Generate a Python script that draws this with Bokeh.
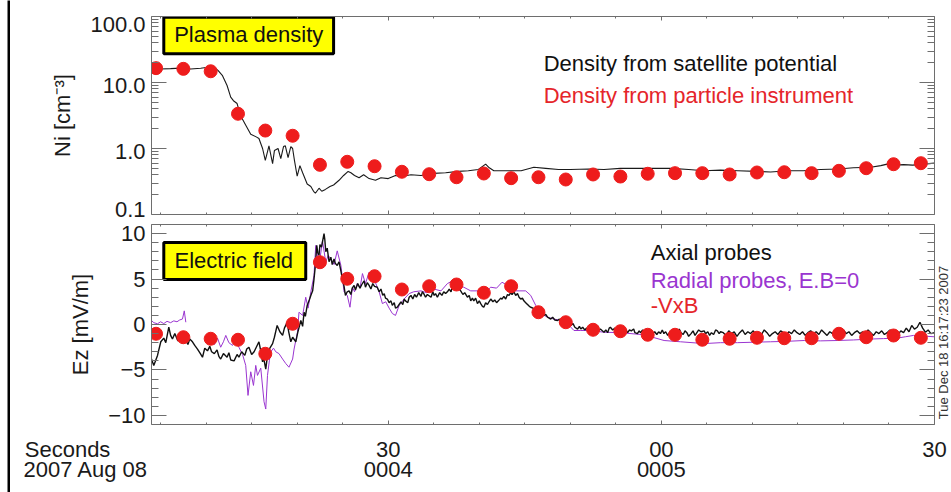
import math
from bokeh.plotting import figure
from bokeh.models import (FixedTicker, LinearAxis, LogAxis, Range1d, Label, Spacer,
                          CustomJSTickFormatter)
from bokeh.layouts import row, column
from bokeh.embed import file_html
from bokeh.resources import INLINE

FONT = "Liberation Sans"

# ---------------- data (time = seconds after 00:04:00 UT, 2007 Aug 08) ----------------
density_line = [
    (4.0, 16.4), (5.0, 16.0), (6.1, 16.2), (7.2, 16.5), (8.3, 16.0), (9.4, 16.4), (10.2, 17.0),
    (10.8, 17.4), (11.3, 15.3), (11.8, 12.7), (12.3, 9.0), (12.7, 6.0), (13.0, 5.3), (13.4, 4.8),
    (13.8, 3.1), (14.4, 2.2), (14.9, 1.65), (15.5, 1.5), (15.8, 1.42), (16.2, 1.0), (16.5, 0.66),
    (16.9, 1.1), (17.3, 0.59), (17.5, 0.93), (17.9, 1.0), (18.2, 0.70), (18.5, 1.07), (18.7, 1.1),
    (19.0, 0.73), (19.3, 1.07), (19.5, 1.0), (19.7, 0.66), (20.0, 0.38), (20.3, 0.55), (20.6, 0.43),
    (21.1, 0.29), (21.5, 0.265), (21.8, 0.225), (22.0, 0.21), (22.4, 0.25), (22.7, 0.225),
    (23.1, 0.24), (23.6, 0.265), (24.0, 0.28), (24.6, 0.33), (25.1, 0.39), (25.6, 0.45),
    (25.9, 0.43), (26.3, 0.39), (26.8, 0.36), (27.3, 0.40), (27.9, 0.35), (28.6, 0.33),
    (29.2, 0.36), (30.0, 0.35), (30.8, 0.39), (31.6, 0.38), (32.5, 0.40), (33.6, 0.39),
    (35.0, 0.42), (36.3, 0.43), (37.7, 0.45), (38.8, 0.46), (39.9, 0.48), (40.7, 0.58),
    (41.1, 0.51), (41.6, 0.46), (42.9, 0.46), (44.6, 0.46), (46.0, 0.52), (47.3, 0.50),
    (48.7, 0.48), (50.0, 0.48), (52.0, 0.49), (53.7, 0.48), (55.5, 0.50), (57.4, 0.50),
    (59.4, 0.50), (61.1, 0.50), (63.0, 0.48), (64.7, 0.46), (66.5, 0.47), (68.4, 0.46),
    (70.4, 0.45), (72.0, 0.44), (73.9, 0.46), (75.6, 0.46), (77.5, 0.48), (79.4, 0.49),
    (81.1, 0.51), (83.0, 0.52), (84.1, 0.55), (84.8, 0.58), (85.7, 0.56), (86.6, 0.57),
    (87.6, 0.56), (88.8, 0.58), (90.0, 0.60),
]

sample_times = [4.5, 7.5, 10.5, 13.5, 16.5, 19.5, 22.5, 25.5, 28.5, 31.5, 34.5, 37.5, 40.5,
                43.5, 46.5, 49.5, 52.5, 55.5, 58.5, 61.5, 64.5, 67.5, 70.5, 73.5, 76.5, 79.5,
                82.5, 85.5, 88.5]
density_particle = [16.5, 16.1, 14.8, 3.36, 1.87, 1.56, 0.566, 0.629, 0.539, 0.444, 0.408,
                    0.367, 0.418, 0.355, 0.367, 0.339, 0.404, 0.376, 0.414, 0.423, 0.423,
                    0.404, 0.433, 0.437, 0.423, 0.459, 0.503, 0.578, 0.599]

ez_vxb = [-1.02, -1.40, -1.57, -1.68, -3.22, 0.08, 6.85, 5.03, 5.31, 3.85, 4.21, 4.40, 3.49,
          4.21, 1.35, 0.25, -0.58, -0.74, -1.13, -1.13, -1.68, -1.57, -1.46, -1.51, -1.51,
          -1.02, -1.40, -1.21, -1.46]

ez_axial = [
    (4.0, -3.8), (4.25, -4.5), (4.66, -3.4), (5.02, -1.9), (5.35, -1.5), (5.57, -2.0), (5.9, -0.3),
    (6.1, -1.2), (6.3, -1.6), (6.56, -1.0), (6.9, -1.8), (7.2, -1.4), (7.4, -2.1), (7.66, -1.5),
    (8.0, -2.2), (8.2, -1.6), (8.5, -1.9), (8.75, -2.3), (9.05, -2.7), (9.3, -3.1), (9.6, -3.6),
    (9.85, -2.6), (10.15, -2.9), (10.4, -2.4), (10.6, -3.0), (10.9, -3.2), (11.2, -2.8),
    (11.4, -3.5), (11.6, -3.8), (11.9, -3.2), (12.3, -3.6), (12.5, -3.1), (12.7, -3.9),
    (13.07, -4.0), (13.4, -3.3), (13.6, -3.6), (13.9, -3.0), (14.25, -3.4), (14.46, -2.7),
    (14.7, -2.5), (15.0, -3.3), (15.27, -3.0), (15.56, -2.4), (15.8, -1.9), (16.0, -2.9),
    (16.2, -4.1), (16.3, -3.6), (16.55, -4.9), (16.74, -3.4), (17.0, -2.6), (17.3, -2.1),
    (17.5, -1.4), (17.8, -0.1), (18.1, -0.8), (18.4, -1.2), (18.6, -0.4), (18.9, 0.25),
    (19.07, -0.8), (19.3, -1.9), (19.5, -1.4), (19.85, -1.9), (20.06, -0.9), (20.4, 0.44),
    (20.6, -0.2), (20.76, 1.35), (20.9, 0.9), (21.1, 2.1), (21.3, 2.6), (21.5, 3.2), (21.7, 3.7),
    (21.85, 5.0), (22.0, 6.5), (22.15, 8.7), (22.26, 7.9), (22.4, 7.6), (22.5, 8.8), (22.67, 8.5),
    (22.8, 9.2), (22.95, 10.0), (23.03, 9.4), (23.14, 8.0), (23.3, 8.4), (23.5, 6.9), (23.7, 7.4),
    (23.85, 6.6), (24.05, 7.2), (24.2, 6.7), (24.4, 6.5), (24.6, 6.9), (24.8, 5.9), (24.97, 5.0),
    (25.15, 4.2), (25.3, 3.2), (25.5, 3.6), (25.7, 3.7), (25.9, 3.3), (26.05, 4.0), (26.25, 4.3),
    (26.4, 3.8), (26.65, 4.5), (26.9, 4.0), (27.1, 4.4), (27.35, 4.8), (27.5, 4.1), (27.7, 4.6),
    (27.9, 4.3), (28.1, 3.9), (28.3, 4.5), (28.5, 4.2), (28.8, 4.1), (29.0, 3.6), (29.2, 3.9),
    (29.4, 3.2), (29.56, 3.4), (29.7, 2.9), (29.9, 2.8), (30.1, 2.4), (30.3, 2.6), (30.45, 2.1),
    (30.66, 2.4), (30.8, 1.8), (31.0, 1.9), (31.2, 2.2), (31.4, 2.5), (31.6, 2.2), (31.76, 2.8),
    (31.9, 2.6), (32.15, 2.4), (32.3, 3.0), (32.5, 3.2), (32.7, 2.8), (32.9, 3.3), (33.1, 3.0),
    (33.35, 3.5), (33.6, 3.1), (33.75, 3.6), (33.9, 3.4), (34.1, 3.0), (34.3, 3.3), (34.7, 3.0),
    (34.9, 3.6), (35.05, 3.2), (35.2, 3.4), (35.4, 3.0), (35.65, 3.5), (35.9, 3.2), (36.1, 3.6),
    (36.3, 3.4), (36.5, 3.6), (36.7, 3.9), (36.9, 3.6), (37.05, 4.2), (37.2, 4.1), (37.4, 3.8),
    (37.6, 4.2), (37.8, 3.9), (37.96, 3.7), (38.2, 3.3), (38.4, 3.5), (38.7, 3.0), (38.9, 3.2),
    (39.06, 2.6), (39.25, 2.9), (39.4, 2.6), (39.6, 2.9), (39.8, 2.3), (40.0, 2.6), (40.16, 2.3),
    (40.35, 2.0), (40.5, 1.9), (40.7, 2.4), (40.9, 2.2), (41.07, 2.5), (41.26, 2.8), (41.5, 2.5),
    (41.7, 2.7), (41.9, 2.4), (42.1, 2.6), (42.35, 2.9), (42.5, 2.8), (42.7, 3.1), (42.9, 2.8),
    (43.1, 3.3), (43.27, 3.2), (43.45, 3.5), (43.6, 3.3), (43.8, 3.6), (44.0, 3.2), (44.2, 3.4),
    (44.37, 3.0), (44.55, 2.8), (44.74, 2.9), (44.9, 2.6), (45.1, 2.4), (45.3, 2.2), (45.5, 2.0),
    (45.65, 1.9), (45.9, 1.8), (46.1, 1.5), (46.4, 1.35), (46.6, 1.4), (46.75, 1.2), (46.9, 1.2),
    (47.1, 1.0), (47.3, 1.1), (47.5, 0.8), (47.85, 0.6), (48.06, 0.8), (48.3, 0.5), (48.6, 0.44),
    (48.8, 0.6), (48.95, 0.3), (49.2, 0.4), (49.3, 0.25), (49.5, 0.3), (49.7, 0.0), (50.06, -0.1),
    (50.3, 0.1), (50.5, -0.3), (50.8, -0.5), (51.0, -0.2), (51.15, -0.5), (51.36, -0.3),
    (51.58, -0.6), (51.8, -0.4), (52.0, -0.5), (52.25, -0.7), (52.45, -0.4), (52.7, -0.6),
    (52.9, -0.3), (53.1, -0.7), (53.3, -0.5), (53.7, -0.85), (53.9, -0.6), (54.1, -0.9),
    (54.27, -0.4), (54.4, -0.3), (54.65, -0.6), (54.9, -0.4), (55.1, -0.8), (55.3, -0.5),
    (55.57, -0.7), (55.7, -0.5), (55.9, -0.85), (56.1, -0.6), (56.3, -0.9), (56.5, -0.6),
    (56.7, -0.7), (56.96, -0.5), (57.1, -0.9), (57.37, -1.0), (57.56, -0.7), (57.7, -0.9),
    (57.95, -0.6), (58.2, -0.8), (58.4, -1.1), (58.6, -1.0), (58.8, -1.4), (59.05, -1.0),
    (59.27, -0.8), (59.5, -1.1), (59.7, -0.8), (59.9, -1.0), (60.1, -0.6), (60.28, -1.0),
    (60.47, -0.8), (60.7, -1.2), (60.9, -0.9), (61.1, -1.1), (61.35, -0.6), (61.5, -0.9),
    (61.76, -0.85), (61.96, -0.5), (62.16, -0.9), (62.4, -1.1), (62.6, -0.7), (62.8, -0.9),
    (63.0, -1.3), (63.26, -1.0), (63.48, -0.7), (63.7, -1.2), (63.9, -0.9), (64.1, -0.6),
    (64.35, -0.8), (64.7, -0.7), (64.86, -1.0), (65.1, -0.8), (65.3, -1.2), (65.5, -0.9),
    (65.74, -1.1), (65.96, -0.6), (66.15, -0.7), (66.35, -1.0), (66.5, -0.8), (66.8, -0.9),
    (67.1, -1.2), (67.4, -0.7), (67.7, -1.0), (68.0, -0.8), (68.3, -1.3), (68.6, -0.9),
    (68.9, -0.6), (69.2, -1.1), (69.5, -0.8), (69.8, -1.0), (70.1, -0.7), (70.4, -1.2),
    (70.7, -0.9), (71.0, -1.1), (71.3, -0.6), (71.6, -0.9), (71.9, -1.3), (72.2, -1.0),
    (72.5, -0.8), (72.8, -1.1), (73.1, -0.7), (73.4, -0.9), (73.7, -1.2), (74.0, -0.8),
    (74.3, -1.0), (74.6, -0.6), (74.9, -0.9), (75.2, -1.1), (75.5, -0.8), (75.8, -1.2),
    (76.1, -0.9), (76.4, -0.7), (76.7, -1.0), (77.0, -0.8), (77.3, -1.1), (77.6, -0.6),
    (77.9, -0.9), (78.2, -1.2), (78.5, -0.8), (78.8, -1.0), (79.1, -0.7), (79.4, -1.1),
    (79.7, -0.9), (80.0, -0.6), (80.3, -1.0), (80.6, -0.8), (80.9, -1.2), (81.2, -0.9),
    (81.5, -0.7), (81.8, -1.0), (82.1, -0.8), (82.4, -1.1), (82.7, -0.6), (83.0, -0.9),
    (83.3, -1.2), (83.6, -0.8), (83.9, -1.0), (84.2, -0.7), (84.5, -1.1), (84.8, -0.9),
    (85.1, -0.6), (85.4, -1.0), (85.7, -0.8), (86.0, -1.1), (86.3, -0.7), (86.6, -0.9),
    (86.9, -0.4), (87.2, -0.8), (87.5, -0.1), (87.8, -0.5), (88.1, -0.3), (88.4, 0.25),
    (88.7, -0.4), (89.0, -0.85), (89.3, -0.6), (89.6, -1.0), (90.0, -0.9),
]

ez_radial = [
    (4.0, 0.44), (4.25, 0.2), (4.66, 0.08), (5.0, 0.3), (5.35, 0.1), (5.7, 0.35), (6.1, 0.2),
    (6.45, 0.4), (6.8, 0.3), (7.1, 0.5), (7.4, 0.6), (7.6, 1.5), (7.77, 0.25), (7.9, float("nan")),
    (10.15, -1.2), (10.5, -1.8), (10.9, -2.2), (11.25, -1.5), (11.6, -2.5), (11.9, -1.9),
    (12.16, -1.2), (12.5, -2.0), (12.9, -2.3), (13.26, -1.6), (13.6, -2.5), (14.0, -3.3),
    (14.35, -4.5), (14.6, -7.8), (14.9, -5.2), (15.2, -6.7), (15.45, -4.5), (15.64, -5.6),
    (16.0, -4.8), (16.36, -8.5), (16.55, -9.3), (16.74, -5.6), (16.94, -4.0), (17.1, -3.0),
    (17.4, -2.6), (17.65, -3.0), (18.0, -3.2), (18.4, -3.8), (18.75, -4.3), (19.1, -4.7),
    (19.5, -3.8), (19.66, -2.7), (20.03, -0.85), (20.2, 1.35), (20.6, 1.0), (20.94, 3.0),
    (21.2, 1.8), (21.5, 3.6), (21.85, 5.4), (22.04, 8.7), (22.4, 6.5), (22.78, 9.2), (23.14, 6.85),
    (23.4, 7.6), (23.7, 7.2), (24.05, 6.6), (24.4, 8.1), (24.8, 6.5), (25.15, 3.6), (25.5, 3.2),
    (25.8, 1.9), (26.07, 4.1), (26.3, 3.6), (26.6, 4.5), (26.9, 4.0), (27.17, 5.6), (27.5, 4.5),
    (27.9, 5.75), (28.3, 4.8), (28.6, 4.6), (29.0, 3.6), (29.36, 2.3), (29.73, 2.5), (30.1, 1.8),
    (30.46, 1.2), (30.8, 1.0), (31.2, 2.1), (31.74, 2.8), (32.3, 3.4), (32.8, 3.6), (33.6, 3.7),
    (34.2, 3.5), (35.0, 3.9), (35.8, 3.7), (36.5, 4.5), (37.05, 4.8), (37.6, 4.3), (38.3, 4.1),
    (39.06, 3.7), (39.8, 3.7), (40.5, 3.4), (41.26, 4.1), (41.9, 4.0), (42.5, 4.65), (43.1, 4.3),
    (43.6, 3.7), (44.37, 3.7), (45.1, 3.7), (45.65, 3.2), (46.2, 2.1), (46.75, 1.2), (47.5, 0.8),
    (48.2, 0.6), (48.95, 0.44), (49.7, 0.08), (50.4, -0.66), (51.15, -0.66), (52.25, -0.66),
    (53.7, -0.85), (55.5, -0.9), (58.1, -1.13), (60.3, -1.76), (62.1, -1.9), (64.7, -2.1),
    (66.5, -2.0), (68.35, -2.0), (70.1, -1.95), (72.0, -1.9), (73.8, -1.85), (75.7, -1.76),
    (77.5, -1.8), (79.3, -1.76), (81.1, -1.7), (83.0, -1.6), (84.4, -1.55), (85.9, -1.5),
    (86.8, -1.35), (87.7, -1.2), (88.5, -1.25), (89.2, -1.3), (90.0, -1.35),
]

x_major = [30, 60, 90]
x_tick_labels = {30: "30\n0004", 60: "00\n0005", 90: "30"}
ni_ticks = [0.1, 1, 10, 100]
# label anchor positions: the outer labels sit a little inside the frame, as in the original
ni_label_pos = {0.119: "0.1", 0.9: "1.0", 8.95: "10.0", 76.7: "100.0"}
ez_ticks = [-10, -5, 0, 5, 10]
date_label = "Seconds\u00a0\u00a0\u00a0\u00a0\u00a0\u00a0\n2007 Aug 08"
stamp_label = "Tue Dec 18 16:17:23 2007"

# ---------------- layout constants (pixels) ----------------
W = 941            # width of the panel column
LEFT = 141         # frame left inside the column
RIGHT = 17         # space right of the frames
FRAME_W = W - LEFT - RIGHT
X0, X1 = 4, 90     # time range of the frames
PX_PER_S = FRAME_W / (X1 - X0)
P2_H = 210

# ---------------- styling helpers ----------------
AX_COL = "#6e6e6e"
RED = "#ee1c1c"
PURPLE = "#9a35d0"


def style_axis(ax, major_len, minor_len, labels):
    ax.axis_line_color = AX_COL
    ax.axis_line_width = 1
    ax.major_tick_line_color = AX_COL
    ax.minor_tick_line_color = AX_COL
    ax.major_tick_in = major_len
    ax.major_tick_out = 0
    ax.minor_tick_in = minor_len
    ax.minor_tick_out = 0
    ax.major_label_text_font = FONT
    ax.major_label_text_color = "#1a1a1a"
    ax.major_label_text_font_size = "22px"
    if not labels:
        ax.formatter = CustomJSTickFormatter(code="return ''")
        ax.major_label_standoff = 0


def style_axis_label(ax, text, size="22px", standoff=12):
    ax.axis_label = text
    ax.axis_label_text_font = FONT
    ax.axis_label_text_font_size = size
    ax.axis_label_text_font_style = "normal"
    ax.axis_label_text_color = "#1a1a1a"
    ax.axis_label_standoff = standoff


x_ticker = FixedTicker(ticks=x_major, minor_ticks=list(range(5, 90, 5)))
log_ticker = FixedTicker(ticks=ni_ticks,
                         minor_ticks=[m * 10.0 ** e for e in (-1, 0, 1) for m in range(2, 10)])
ez_ticker = FixedTicker(ticks=ez_ticks, minor_ticks=list(range(-11, 12)))

xr = Range1d(X0, X1)

# ---------------- top panel ----------------
p1 = figure(width=W, height=221, x_range=xr, y_range=Range1d(0.1, 100), y_axis_type="log",
            output_backend="svg", toolbar_location=None,
            min_border_left=LEFT, min_border_right=RIGHT, min_border_top=16, min_border_bottom=7)
p1.grid.visible = False
p1.outline_line_color = None
p1.xaxis.ticker = x_ticker
style_axis(p1.xaxis[0], 4, 2, False)
p1.yaxis.ticker = log_ticker
style_axis(p1.yaxis[0], 15, 7, False)
lab_axis = LogAxis(ticker=FixedTicker(ticks=list(ni_label_pos.keys()), minor_ticks=[]),
                   major_label_overrides=ni_label_pos)
style_axis(lab_axis, 0, 0, True)
lab_axis.axis_line_color = None
lab_axis.major_tick_line_color = None
lab_axis.major_label_standoff = 6
style_axis_label(lab_axis, "Ni [cm⁻³]")
p1.add_layout(lab_axis, "left")
ax_top = LinearAxis(ticker=x_ticker)
style_axis(ax_top, 4, 2, False)
p1.add_layout(ax_top, "above")
ax_r1 = LogAxis(ticker=log_ticker)
style_axis(ax_r1, 15, 7, False)
p1.add_layout(ax_r1, "right")

p1.quad(left=[5.35], right=[24.0], bottom=[27.3], top=[97.0],
        fill_color="#ffff00", line_color="black", line_width=3)
p1.add_layout(Label(x=14.68, y=52.8, text="Plasma density", text_align="center",
                    text_baseline="middle", text_font=FONT, text_font_size="22px",
                    text_color="#111111"))
p1.line([t for t, v in density_line], [v for t, v in density_line], line_color="#1a1a1a",
        line_width=1.1)
p1.scatter(sample_times, density_particle, size=13, fill_color=RED, line_color=RED)
p1.add_layout(Label(x=47.08, y=19.2, text="Density from satellite potential", text_align="left",
                    text_baseline="middle", text_font=FONT, text_font_size="22px",
                    text_color="#111111"))
p1.add_layout(Label(x=47.08, y=6.3, text="Density from particle instrument", text_align="left",
                    text_baseline="middle", text_font=FONT, text_font_size="22px",
                    text_color="#e5252a"))

# ---------------- bottom panel ----------------
p2 = figure(width=W - RIGHT + 1, height=P2_H, x_range=xr, y_range=Range1d(-11, 11),
            output_backend="svg", toolbar_location=None,
            min_border_left=LEFT, min_border_right=1, min_border_top=3, min_border_bottom=7)
p2.grid.visible = False
p2.outline_line_color = None
p2.xaxis.ticker = x_ticker
style_axis(p2.xaxis[0], 4, 2, False)
p2.yaxis.ticker = ez_ticker
style_axis(p2.yaxis[0], 15, 7, True)
p2.yaxis.major_label_standoff = 6
style_axis_label(p2.yaxis[0], "Ez [mV/m]")
ax_top2 = LinearAxis(ticker=x_ticker)
style_axis(ax_top2, 4, 2, False)
p2.add_layout(ax_top2, "above")
ax_r2 = LinearAxis(ticker=ez_ticker)
style_axis(ax_r2, 15, 7, False)
p2.add_layout(ax_r2, "right")

p2.quad(left=[5.35], right=[20.94], bottom=[4.95], top=[9.02],
        fill_color="#ffff00", line_color="black", line_width=3)
p2.add_layout(Label(x=13.04, y=6.99, text="Electric field", text_align="center",
                    text_baseline="middle", text_font=FONT, text_font_size="22px",
                    text_color="#111111"))
p2.line([t for t, v in ez_radial], [v for t, v in ez_radial], line_color=PURPLE, line_width=1)
p2.line([t for t, v in ez_axial], [v for t, v in ez_axial], line_color="#111111", line_width=1.4)
p2.scatter(sample_times, ez_vxb, size=13, fill_color=RED, line_color=RED)
p2.add_layout(Label(x=58.83, y=7.95, text="Axial probes", text_align="left",
                    text_baseline="middle", text_font=FONT, text_font_size="22px",
                    text_color="#111111"))
p2.add_layout(Label(x=58.83, y=4.84, text="Radial probes, E.B=0", text_align="left",
                    text_baseline="middle", text_font=FONT, text_font_size="22px",
                    text_color=PURPLE))
p2.add_layout(Label(x=58.83, y=2.09, text="-VxB", text_align="left",
                    text_baseline="middle", text_font=FONT, text_font_size="22px",
                    text_color="#e5252a"))

# narrow strip right of the bottom panel with the plot time stamp
PR_W = RIGHT - 1
pr = figure(width=PR_W, height=P2_H, x_range=Range1d(0, PR_W), y_range=Range1d(0, P2_H),
            min_border=0, x_axis_location=None, y_axis_location=None, toolbar_location=None,
            output_backend="svg", outline_line_color=None, frame_align=False)
pr.grid.visible = False
pr.add_layout(Label(x=8, y=89, text=stamp_label, angle=math.pi / 2, text_align="center",
                    text_baseline="middle", text_font=FONT, text_font_size="13px",
                    text_line_height=1.0, text_color="#333333"))

# time axis labels below the bottom panel (same time scale, extended over the page width)
date_pos = X0 - (LEFT - 85.4 + 10) / PX_PER_S
p3 = figure(width=W, height=492 - 221 - P2_H,
            x_range=Range1d(X0 - LEFT / PX_PER_S, X1 + RIGHT / PX_PER_S), y_range=Range1d(0, 1),
            min_border_left=0, min_border_right=0, min_border_top=0,
            min_border_bottom=492 - 221 - P2_H - 3, frame_align=False,
            y_axis_location=None, toolbar_location=None, output_backend="svg",
            outline_line_color=None)
p3.grid.visible = False
p3.xaxis.ticker = FixedTicker(ticks=[date_pos] + x_major, minor_ticks=[])
p3.xaxis.major_label_overrides = {**{date_pos: date_label}, **x_tick_labels}
style_axis(p3.xaxis[0], 0, 0, True)
p3.xaxis.axis_line_color = None
p3.xaxis.major_tick_line_color = None
p3.xaxis.major_label_standoff = 2
p3.xaxis.major_label_text_line_height = 0.82

# ---------------- page border on the left ----------------
bar = figure(width=3, height=492, min_border=0, x_axis_location=None, y_axis_location=None,
             toolbar_location=None, output_backend="svg", background_fill_color="black",
             border_fill_color="black", outline_line_color=None, frame_align=False)
bar.grid.visible = False

layout = row(Spacer(width=7, height=492), bar, column(p1, row(p2, pr), p3))

open("out.html", "w").write(file_html(layout, INLINE))
